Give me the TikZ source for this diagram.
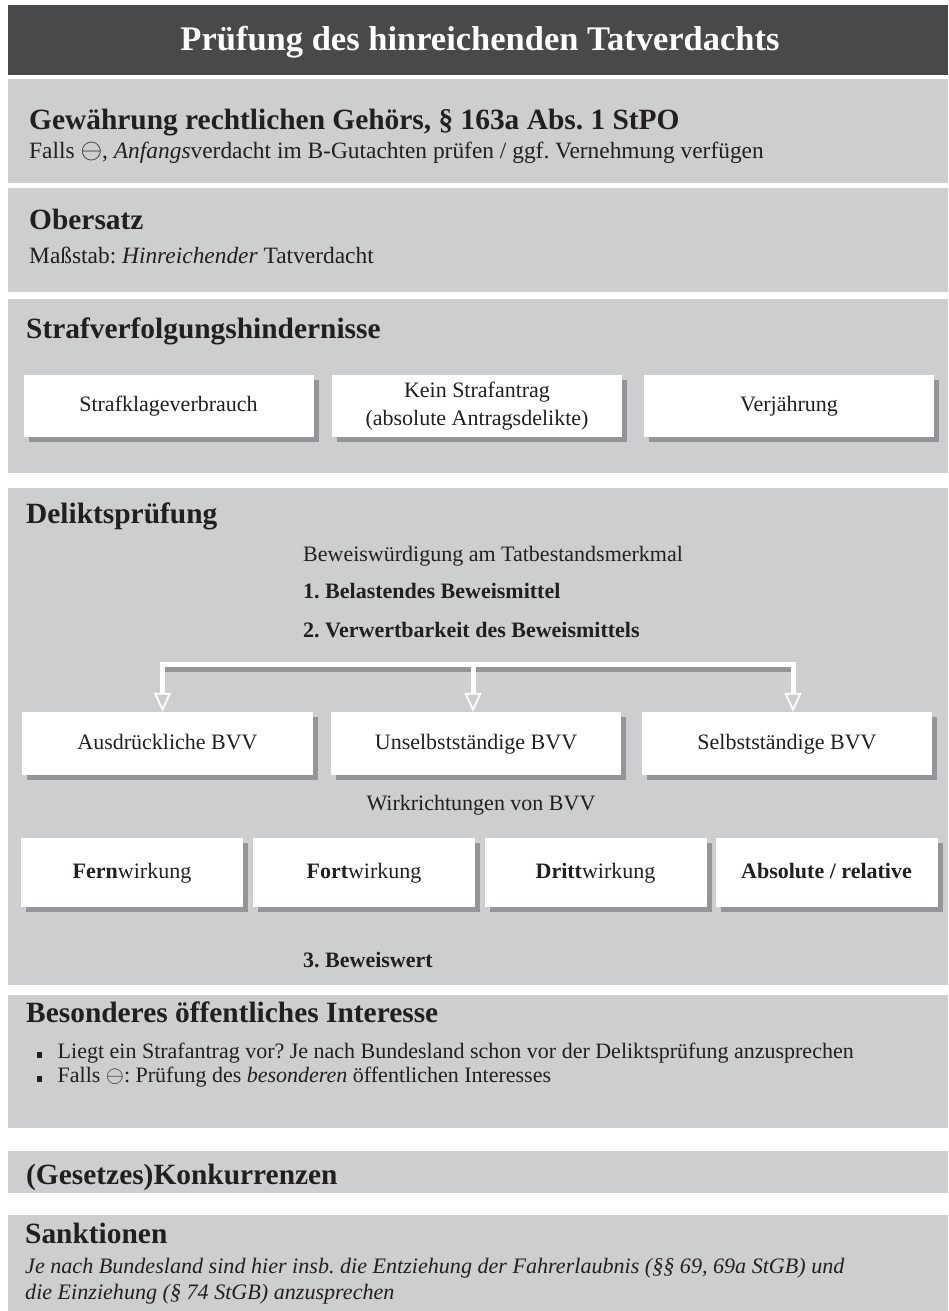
\documentclass[tikz,border=0pt]{standalone}
\usepackage{fontspec}
\usepackage{graphicx}
\setmainfont{Liberation Serif}
\newcommand{\minuscirc}{\raisebox{-0.04em}{\scalebox{1.12}{$\ominus$}}}
\usetikzlibrary{arrows.meta}
\definecolor{panel}{HTML}{CDCED0}
\definecolor{hdr}{HTML}{48494B}
\definecolor{shade}{HTML}{939598}
\definecolor{ink}{HTML}{231F20}
\frenchspacing
\begin{document}
\begin{tikzpicture}[x=1pt,y=-1pt,
  heading/.style={anchor=base west, inner sep=0pt, text=ink, font=\fontsize{29.4}{34}\selectfont\bfseries},
  bodytext/.style={anchor=base west, inner sep=0pt, text=ink, font=\fontsize{22}{26}\selectfont},
  bigbody/.style={anchor=base west, inner sep=0pt, text=ink, font=\fontsize{23.4}{27}\selectfont},
  boldtext/.style={bodytext, font=\fontsize{22}{26}\selectfont\bfseries},
  card/.style={fill=white, inner sep=0pt, text=ink, align=center,
    font=\fontsize{22}{27.5}\selectfont,
    preaction={fill=shade, transform canvas={xshift=5pt, yshift=-5pt}}},
  onecard/.style={card, text height=15.5pt, text depth=4.5pt},
  wline/.style={draw=white, line width=5pt},
  warrow/.style={draw=white, line width=5pt, -{Triangle[open, width=17pt, length=19pt, line width=1.8pt]}},
]
\useasboundingbox (0,0) rectangle (948,1311);
% panels
\fill[hdr]   (8,5)    rectangle (948,75);
\fill[panel] (8,79)   rectangle (948,183);
\fill[panel] (8,188)  rectangle (948,292);
\fill[panel] (8,299)  rectangle (948,473);
\fill[panel] (8,488)  rectangle (948,985);
\fill[panel] (8,995)  rectangle (948,1128);
\fill[panel] (8,1151) rectangle (948,1193);
\fill[panel] (8,1215) rectangle (948,1311);

% title
\node[text=white, inner sep=0pt, font=\fontsize{34.5}{40}\selectfont\bfseries] (title) at (480,42) {Prüfung des hinreichenden Tatverdachts};

% Gewaehrung
\node[heading] (h1) at (29,130) {Gewährung rechtlichen Gehörs, § 163a Abs. 1 StPO};
\node[bigbody] (t1) at (29,158) {Falls \minuscirc, \textit{Anfangs}verdacht im B-Gutachten prüfen / ggf. Vernehmung verfügen};

% Obersatz
\node[heading] (h2) at (29,229) {Obersatz};
\node[bigbody] (t2) at (29,263) {Maßstab: \textit{Hinreichender} Tatverdacht};

% Strafverfolgungshindernisse
\node[heading] (h3) at (26,338) {Strafverfolgungshindernisse};
\node[onecard, minimum width=290pt, minimum height=62pt] (s1) at (168.5,406) {Strafklageverbrauch};
\node[card, minimum width=290pt, minimum height=62pt] (s2) at (477,406) {Kein Strafantrag\\(absolute Antragsdelikte)};
\node[onecard, minimum width=290pt, minimum height=62pt] (s3) at (789,406) {Verjährung};

% Deliktspruefung
\node[heading] (h4) at (26,523) {Deliktsprüfung};
\node[bodytext] (d0) at (303,561) {Beweiswürdigung am Tatbestandsmerkmal};
\node[boldtext] (d1) at (303,598) {1. Belastendes Beweismittel};
\node[boldtext] (d2) at (303,637) {2. Verwertbarkeit des Beweismittels};

\node[onecard, minimum width=291pt, minimum height=63pt] (v1) at (167.5,743.5) {Ausdrückliche BVV};
\node[onecard, minimum width=290pt, minimum height=63pt] (v2) at (476,743.5) {Unselbstständige BVV};
\node[onecard, minimum width=290pt, minimum height=63pt] (v3) at (787,743.5) {Selbstständige BVV};

\coordinate (aL) at (162.5,664.5);
\coordinate (aM) at (473,664.5);
\coordinate (aR) at (793,664.5);
\draw[draw=shade, line width=5pt] ([xshift=2.5pt,yshift=-5pt]aL) -- ([xshift=-2.5pt,yshift=-5pt]aR);
\draw[wline, line cap=rect] (aL) -- (aR);
\draw[warrow] (aL) -- (aL |- v1.north);
\draw[warrow] (aM) -- (aM |- v2.north);
\draw[warrow] (aR) -- (aR |- v3.north);

\node[bodytext, anchor=base] (wr) at (481,810) {Wirkrichtungen von BVV};

\node[onecard, minimum width=222pt, minimum height=69pt] (w1) at (132,872.5) {\textbf{Fern}wirkung};
\node[onecard, minimum width=222pt, minimum height=69pt] (w2) at (364,872.5) {\textbf{Fort}wirkung};
\node[onecard, minimum width=222pt, minimum height=69pt] (w3) at (595.5,872.5) {\textbf{Dritt}wirkung};
\node[onecard, minimum width=222pt, minimum height=69pt] (w4) at (826.5,872.5) {\textbf{Absolute / relative}};

\node[boldtext] (d3) at (303,967) {3. Beweiswert};

% Besonderes oeffentliches Interesse
\node[heading] (h5) at (26,1022) {Besonderes öffentliches Interesse};
\node[bodytext] (b1) at (37,1058) {\rule{4.5pt}{6.5pt}\hspace{16pt}Liegt ein Strafantrag vor? Je nach Bundesland schon vor der Deliktsprüfung anzusprechen};
\node[bodytext] (b2) at (37,1082) {\rule{4.5pt}{6.5pt}\hspace{16pt}Falls \minuscirc: Prüfung des \textit{besonderen} öffentlichen Interesses};

% Konkurrenzen
\node[heading] (h6) at (26,1184) {(Gesetzes)Konkurrenzen};

% Sanktionen
\node[heading] (h7) at (25,1243) {Sanktionen};
\node[bodytext, font=\fontsize{22.1}{26}\selectfont\itshape] (k1) at (25,1273) {Je nach Bundesland sind hier insb. die Entziehung der Fahrerlaubnis (§§ 69, 69a StGB) und};
\node[bodytext, font=\fontsize{22.1}{26}\selectfont\itshape] (k2) at (25,1299) {die Einziehung (§ 74 StGB) anzusprechen};
\end{tikzpicture}
\end{document}
